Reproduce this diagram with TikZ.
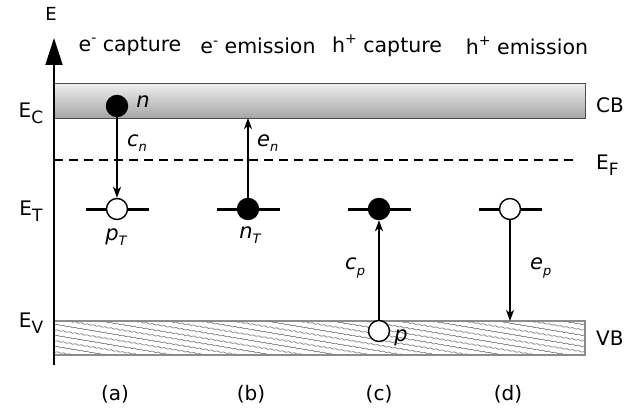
\documentclass[tikz,border=0pt]{standalone}
\usepackage{fontspec}
\setmainfont{DejaVu Sans}
\usetikzlibrary{arrows.meta,decorations.pathmorphing}
\newcommand\lowsub[2]{#1\raisebox{-0.3em}{\fontsize{17}{17}\selectfont #2}}
\newcommand\itsub[2]{{\itshape #1\raisebox{-0.25em}{\fontsize{13}{13}\selectfont #2}}}
\newcommand\hisup[2]{#1\raisebox{0.42em}{\fontsize{14}{14}\selectfont #2}}
\begin{document}
\begin{tikzpicture}[x=1pt,y=-1pt,
  lbl/.style={inner sep=0pt,font=\fontsize{20}{20}\selectfont},
  head/.style={inner sep=0pt,font=\fontsize{20.5}{20.5}\selectfont},
  ital/.style={inner sep=0pt,font=\fontsize{21}{21}\selectfont\itshape},
  axisline/.style={line width=2pt,-{Triangle[width=17pt,length=27pt]}},
  arr/.style={line width=1.4pt,-{Stealth[length=11pt,width=8pt,inset=3pt]}},
  trapline/.style={line width=3pt},
  dotfull/.style={circle,draw=black,fill=black,line width=1.4pt,minimum size=21pt,inner sep=0pt},
  dotopen/.style={circle,draw=black,fill=white,line width=1.4pt,minimum size=21pt,inner sep=0pt},
  cbbox/.style={draw=black!70,line width=1pt,top color=black!6,bottom color=black!35,minimum width=531pt,minimum height=35pt,inner sep=0pt},
  vbbox/.style={draw=black!45,line width=1.2pt,minimum width=531pt,minimum height=34pt,inner sep=0pt},
  hatch/.style={draw=black!50,line width=0.7pt,decorate,decoration={snake,amplitude=0.5pt,segment length=6pt}},
  fermi/.style={line width=1.1pt,dash pattern=on 9pt off 6pt}]
\useasboundingbox (0,0) rectangle (626,412);
\fill[white] (0,0) rectangle (626,412);

% bands
\node[cbbox] (CB) at (319.5,100.5) {};
\node[vbbox,fill=white] (VB) at (319.5,338) {};
\begin{scope}
  \clip (54,321) rectangle (585,355);
  \foreach \k in {0,...,30} {
    \draw[hatch] (50,{230+5.5*\k}) -- (590,{320+5.5*\k});
  }
\end{scope}
\draw[draw=black!45,line width=1.2pt] (VB.south west) rectangle (VB.north east);

% Fermi level
\coordinate (EFl) at (54,160);
\coordinate (EFr) at (578,160);
\draw[fermi] (EFl) -- (EFr);

% axis
\coordinate (axB) at (54,365);
\coordinate (axT) at (54,38);
\draw[axisline] (axB) -- (axT);
\node[lbl,font=\fontsize{18}{18}\selectfont] (Elab) at (51,14) {E};

% left/right labels
\node[lbl] (EC) at (31,113) {\lowsub{E}{C}};
\node[lbl] (ET) at (31,211) {\lowsub{E}{T}};
\node[lbl] (EV) at (31,323) {\lowsub{E}{V}};
\node[lbl,anchor=west] (EF) at (596,165) {\lowsub{E}{F}};
\node[lbl,anchor=west] (CBl) at (596,105) {CB};
\node[lbl,anchor=west] (VBl) at (596,338) {VB};

% headers
\node[head] (h1) at (130,46) {\hisup{e}{-} capture};
\node[head] (h2) at (258,46) {\hisup{e}{-} emission};
\node[head] (h3) at (387,46) {\hisup{h}{+} capture};
\node[head] (h4) at (527,46) {\hisup{h}{+} emission};

% trap levels
\draw[trapline] (86,209) -- (149,209);
\draw[trapline] (217,209) -- (280,209);
\draw[trapline] (348,209) -- (411,209);
\draw[trapline] (479,209) -- (542,209);

% carriers
\node[dotfull] (n) at (117,106) {};
\node[dotopen] (pT) at (117,209) {};
\node[dotfull] (nT) at (248,209) {};
\node[dotfull] (cT) at (379,209) {};
\node[dotopen] (eT) at (510,209) {};
\node[dotopen] (p) at (379,331) {};
\coordinate (enEnd) at (248,118);
\coordinate (epEnd) at (510,321);

% transitions
\draw[arr] (n) -- (pT);
\draw[arr] (nT) -- (enEnd);
\draw[arr] (p) -- (cT);
\draw[arr] (eT) -- (epEnd);

% carrier labels
\node[ital] (nl) at (143,102) {n};
\node[ital,anchor=west] (cn) at (127,143) {\itsub{c}{n}};
\node[ital,anchor=west] (en) at (257,143) {\itsub{e}{n}};
\node[ital] (pTl) at (116,237) {\itsub{p}{T}};
\node[ital] (nTl) at (250,235) {\itsub{n}{T}};
\node[ital,anchor=west] (cp) at (345,268) {\itsub{c}{p}};
\node[ital,anchor=west] (ep) at (530,268) {\itsub{e}{p}};
\node[ital] (pl) at (401,338) {p};

% panel labels
\node[lbl] (a) at (115,394) {(a)};
\node[lbl] (b) at (251,394) {(b)};
\node[lbl] (c) at (379,394) {(c)};
\node[lbl] (d) at (508,394) {(d)};
\end{tikzpicture}
\end{document}
